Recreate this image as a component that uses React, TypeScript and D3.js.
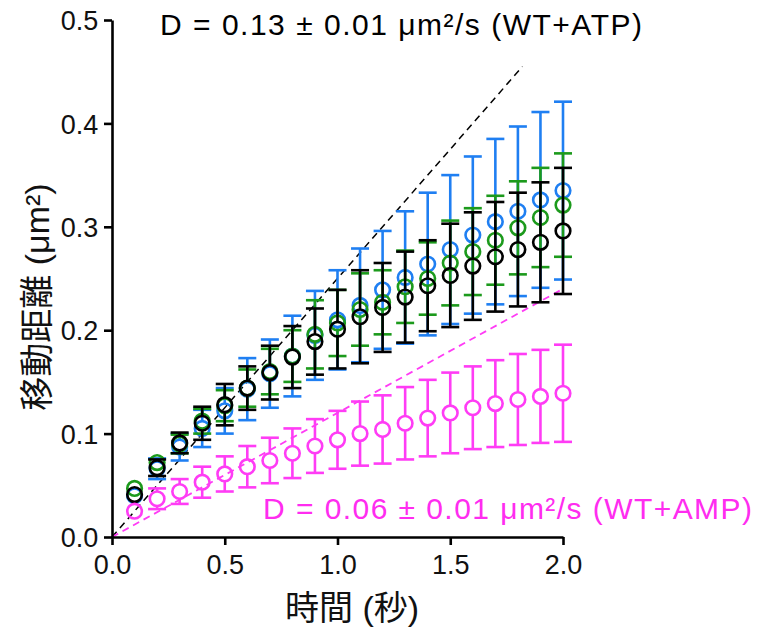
import React, { useRef, useEffect } from "react";
import * as d3 from "d3";

// time points (s)
const times = [0.1, 0.2, 0.3, 0.4, 0.5, 0.6, 0.7, 0.8, 0.9, 1.0, 1.1, 1.2, 1.3, 1.4, 1.5, 1.6, 1.7, 1.8, 1.9, 2.0];

const blueMean = [0.040, 0.066, 0.087, 0.105, 0.122, 0.143, 0.158, 0.175, 0.195, 0.210, 0.224, 0.239, 0.251, 0.264, 0.278, 0.292, 0.305, 0.315, 0.326, 0.335];
const blueErr = [0.006, 0.010, 0.013, 0.018, 0.022, 0.030, 0.033, 0.039, 0.043, 0.048, 0.055, 0.057, 0.064, 0.069, 0.072, 0.076, 0.080, 0.082, 0.085, 0.086];

const greenMean = [0.047, 0.072, 0.090, 0.112, 0.127, 0.144, 0.160, 0.175, 0.196, 0.207, 0.220, 0.227, 0.242, 0.250, 0.265, 0.276, 0.287, 0.299, 0.309, 0.321];
const greenErr = [0.004, 0.007, 0.009, 0.012, 0.015, 0.018, 0.022, 0.025, 0.033, 0.032, 0.035, 0.031, 0.035, 0.035, 0.041, 0.042, 0.043, 0.045, 0.048, 0.050];

const blackMean = [0.041, 0.067, 0.091, 0.110, 0.128, 0.144, 0.159, 0.174, 0.189, 0.201, 0.213, 0.222, 0.232, 0.243, 0.253, 0.262, 0.271, 0.278, 0.285, 0.296];
const blackErr = [0.005, 0.008, 0.010, 0.016, 0.020, 0.021, 0.026, 0.030, 0.032, 0.038, 0.045, 0.043, 0.044, 0.044, 0.050, 0.052, 0.053, 0.055, 0.058, 0.061];

const ampMean = [0.025, 0.037, 0.044, 0.053, 0.061, 0.068, 0.074, 0.081, 0.088, 0.094, 0.100, 0.104, 0.110, 0.115, 0.120, 0.125, 0.129, 0.133, 0.136, 0.139];
const ampErr = [0.007, 0.010, 0.012, 0.015, 0.017, 0.020, 0.022, 0.024, 0.026, 0.028, 0.031, 0.033, 0.035, 0.037, 0.039, 0.040, 0.042, 0.044, 0.045, 0.047];

// fit lines [t, msd]
const atpFit = [[0, 0], [1.82, 0.455]];
const ampFit = [[0, 0], [2.0, 0.24]];

const xTicks = [0, 0.5, 1.0, 1.5, 2.0];
const yTicks = [0, 0.1, 0.2, 0.3, 0.4, 0.5];

const atpLabel = "D = 0.13 ± 0.01 μm²/s (WT+ATP)";
const ampLabel = "D = 0.06 ± 0.01 μm²/s (WT+AMP)";

const series = [
    { name: "blue", color: "#1f7ff2", mean: blueMean, err: blueErr },
    { name: "green", color: "#1c9a1c", mean: greenMean, err: greenErr },
    { name: "black", color: "#000000", mean: blackMean, err: blackErr },
    { name: "amp", color: "#ff3cf5", mean: ampMean, err: ampErr },
];

const font = "'Liberation Sans', Arial, 'Noto Sans CJK JP', sans-serif";

const App = () => {
    const ref = useRef<HTMLDivElement>(null);

    useEffect(() => {
        const width = 760;
        const height = 635;
        const x = d3.scaleLinear().domain([0, 2]).range([112, 563]);
        const y = d3.scaleLinear().domain([0, 0.5]).range([537, 20]);

        const svg = d3.create("svg")
            .attr("width", width)
            .attr("height", height)
            .attr("viewBox", [0, 0, width, height])
            .style("position", "absolute")
            .style("left", "0px")
            .style("top", "0px")
            .style("background", "#fff");

        // fit lines
        const line = d3.line<number[]>().x(d => x(d[0])).y(d => y(d[1]));
        svg.append("path").datum(atpFit)
            .attr("d", line).attr("fill", "none")
            .attr("stroke", "#000").attr("stroke-width", 1.5)
            .attr("stroke-dasharray", "7,5");
        svg.append("path").datum(ampFit)
            .attr("d", line).attr("fill", "none")
            .attr("stroke", "#ff3cf5").attr("stroke-width", 1.8)
            .attr("stroke-dasharray", "7,5");

        const r = 7.3;
        const cap = 9;
        series.forEach(s => {
            const g = svg.append("g").attr("stroke", s.color).attr("stroke-width", 2.6).attr("fill", "none");
            times.forEach((t, i) => {
                const cx = x(t);
                const cy = y(s.mean[i]);
                const top = y(s.mean[i] + s.err[i]);
                const bot = y(s.mean[i] - s.err[i]);
                if (cy - top > r) {
                    g.append("line").attr("x1", cx).attr("x2", cx).attr("y1", cy - r).attr("y2", top);
                    g.append("line").attr("x1", cx - cap).attr("x2", cx + cap).attr("y1", top).attr("y2", top);
                }
                if (bot - cy > r) {
                    g.append("line").attr("x1", cx).attr("x2", cx).attr("y1", cy + r).attr("y2", bot);
                    g.append("line").attr("x1", cx - cap).attr("x2", cx + cap).attr("y1", bot).attr("y2", bot);
                }
                g.append("circle").attr("cx", cx).attr("cy", cy).attr("r", r);
            });
        });

        // axes
        const xAxis = svg.append("g")
            .attr("transform", `translate(0,${y(0)})`)
            .call(d3.axisBottom(x).tickValues(xTicks).tickFormat(d3.format(".1f")).tickSize(8).tickSizeOuter(0));
        const yAxis = svg.append("g")
            .attr("transform", `translate(${x(0)},0)`)
            .call(d3.axisLeft(y).tickValues(yTicks).tickFormat(d3.format(".1f")).tickSize(8).tickSizeOuter(0));
        [xAxis, yAxis].forEach(a => {
            a.select(".domain").attr("stroke-width", 2.6);
            a.selectAll(".tick line").attr("stroke-width", 2.6);
            a.selectAll(".tick text").style("font-family", font).style("font-size", "27px").attr("fill", "#111");
        });
        xAxis.selectAll(".tick text").attr("dy", "0.95em");
        yAxis.selectAll(".tick text").attr("dx", "-0.1em").attr("dy", "0.36em");

        // axis titles
        svg.append("text")
            .attr("x", 352).attr("y", 620)
            .attr("text-anchor", "middle")
            .style("font-family", font).style("font-size", "34px")
            .attr("fill", "#111")
            .text("時間 (秒)");
        svg.append("text")
            .attr("transform", `translate(49,297) rotate(-90)`)
            .attr("text-anchor", "middle")
            .style("font-family", font).style("font-size", "34px")
            .attr("fill", "#111")
            .text("移動距離 (μm²)");

        // annotations
        svg.append("text")
            .attr("x", 160).attr("y", 35)
            .attr("textLength", 482).attr("lengthAdjust", "spacing")
            .style("font-family", font).style("font-size", "30px")
            .attr("fill", "#000")
            .text(atpLabel);
        svg.append("text")
            .attr("x", 263).attr("y", 519)
            .attr("textLength", 489).attr("lengthAdjust", "spacing")
            .style("font-family", font).style("font-size", "30px")
            .attr("fill", "#ff2cf0")
            .text(ampLabel);

        ref.current!.innerHTML = "";
        ref.current!.appendChild(svg.node()!);
    }, []);

    return <div ref={ref} />;
};

export default App;
